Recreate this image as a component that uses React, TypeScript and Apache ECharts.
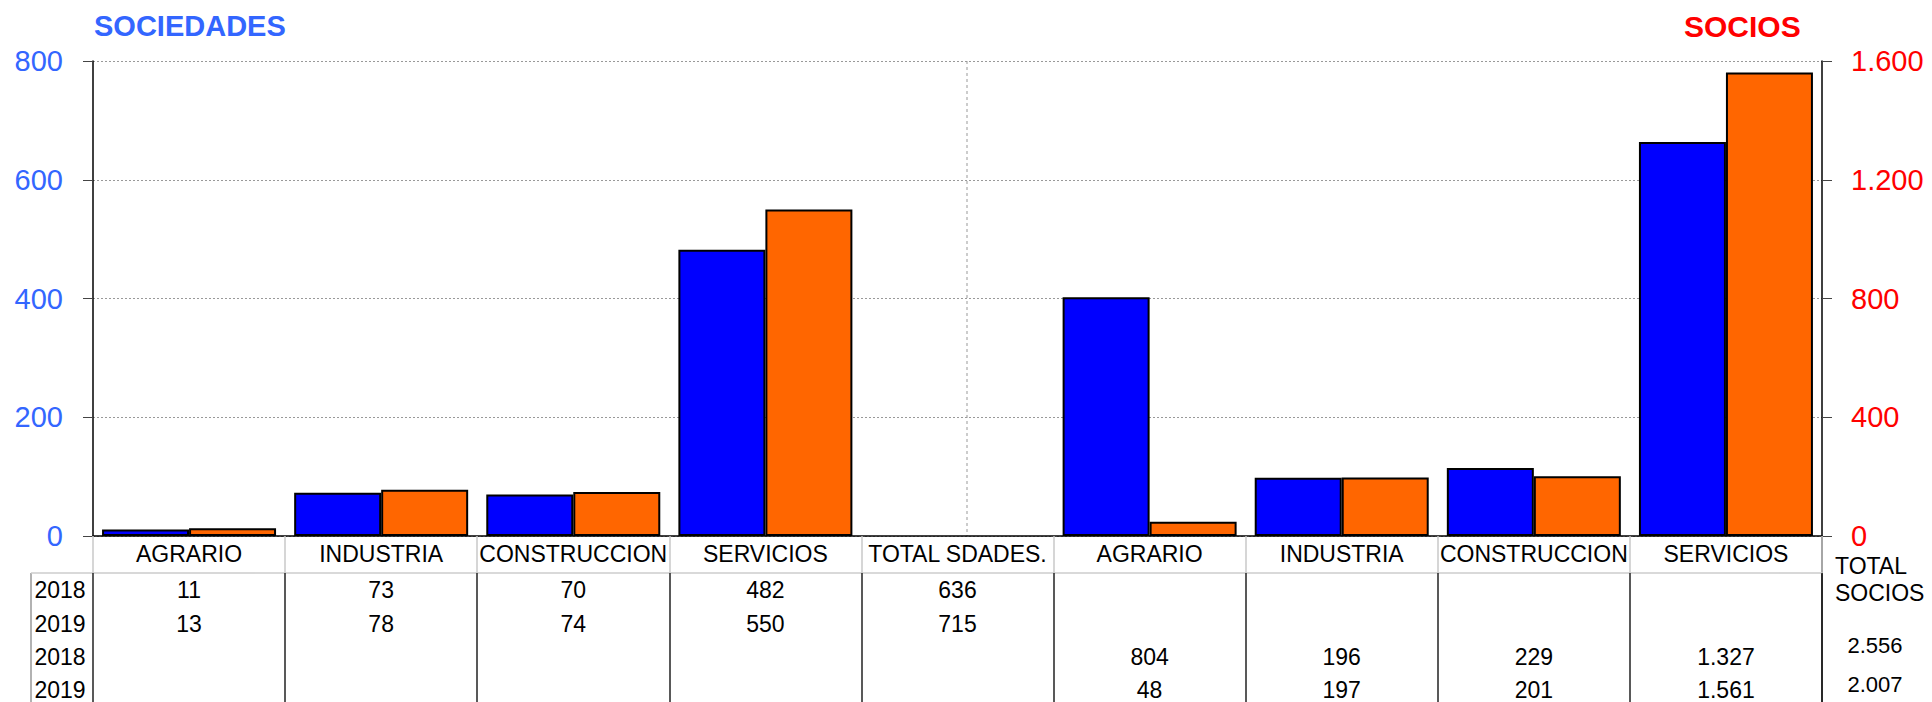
import React, { useEffect, useRef } from 'react';
import * as echarts from 'echarts';

const categories = ['AGRARIO', 'INDUSTRIA', 'CONSTRUCCION', 'SERVICIOS', 'TOTAL SDADES.', 'AGRARIO', 'INDUSTRIA', 'CONSTRUCCION', 'SERVICIOS'];
const sociedades2018 = [11, 73, 70, 482];
const sociedades2019 = [13, 78, 74, 550];
const totalSociedades = [636, 715];
const socios2018 = [804, 196, 229, 1327];
const socios2019 = [48, 197, 201, 1561];
const totalSocios = [2556, 2007];
const rowYears = ['2018', '2019', '2018', '2019'];
const leftMax = 800;
const leftStep = 200;
const rightMax = 1600;
const rightStep = 400;

const FONT = '"Liberation Sans", Arial, sans-serif';
const fmt = (n: number) => String(n).replace(/\B(?=(\d{3})+(?!\d))/g, '.');
const pad = (n: number) => Array(n).fill(null);

const GRID_LEFT = 93;
const GRID_RIGHT = 1822;
const GRID_TOP = 61;
const GRID_BOTTOM = 536;
const W = 1932;
const H = 702;
const HEADER_BOTTOM = 573;
const rowCenters = [590, 624, 657, 690];
const DIVIDER_X = 967;

export default function App() {
  const ref = useRef<HTMLDivElement>(null);
  useEffect(() => {
    if (!ref.current) return;
    const chart = echarts.init(ref.current, undefined, { renderer: 'svg' });

    const socS18 = [...sociedades2018, ...pad(5)];
    const socS19 = [...sociedades2019, ...pad(5)];
    const sociosS18 = [...pad(5), ...socios2018];
    const sociosS19 = [...pad(5), ...socios2019];
    const tableRows = [
      [...sociedades2018, totalSociedades[0], ...pad(4)],
      [...sociedades2019, totalSociedades[1], ...pad(4)],
      [...pad(5), ...socios2018],
      [...pad(5), ...socios2019],
    ];

    const rowAxes = tableRows.map((row, r) => ({
      type: 'category',
      gridIndex: 0,
      position: 'bottom',
      offset: rowCenters[r] - GRID_BOTTOM,
      data: categories,
      axisLine: { show: false, onZero: false },
      axisTick: { show: false },
      splitLine: { show: false },
      axisLabel: {
        interval: 0,
        margin: 0,
        verticalAlign: 'middle',
        color: '#000',
        fontSize: 23,
        fontFamily: FONT,
        formatter: (_v: string, i: number) => (row[i] == null ? '' : fmt(row[i] as number)),
      },
    }));

    const barStyle = (color: string) => ({ color, borderColor: '#000', borderWidth: 2 });

    const graphic: any[] = [
      {
        type: 'text', x: 94, y: 26,
        style: { text: 'SOCIEDADES', fill: '#3366FF', font: `bold 29px ${FONT}`, align: 'left', verticalAlign: 'middle' },
      },
      {
        type: 'text', x: 1684, y: 26,
        style: { text: 'SOCIOS', fill: '#FF0000', font: `bold 30px ${FONT}`, align: 'left', verticalAlign: 'middle' },
      },
      {
        type: 'line', shape: { x1: DIVIDER_X, y1: GRID_TOP, x2: DIVIDER_X, y2: GRID_BOTTOM },
        style: { stroke: '#999', lineWidth: 1, lineDash: [3, 3] },
      },
      {
        type: 'line', shape: { x1: 31, y1: HEADER_BOTTOM, x2: 31, y2: H },
        style: { stroke: '#999', lineWidth: 1.5 },
      },
      {
        type: 'line', shape: { x1: 31, y1: HEADER_BOTTOM, x2: GRID_LEFT, y2: HEADER_BOTTOM },
        style: { stroke: '#ccc', lineWidth: 1.5 },
      },
      {
        type: 'line', shape: { x1: GRID_RIGHT, y1: GRID_BOTTOM, x2: GRID_RIGHT, y2: H },
        style: { stroke: '#000', lineWidth: 1.5 },
      },
      {
        type: 'text', x: 1835, y: 566,
        style: { text: 'TOTAL', fill: '#000', font: `23px ${FONT}`, align: 'left', verticalAlign: 'middle' },
      },
      {
        type: 'text', x: 1835, y: 593,
        style: { text: 'SOCIOS', fill: '#000', font: `23px ${FONT}`, align: 'left', verticalAlign: 'middle' },
      },
    ];
    rowYears.forEach((yr, r) => {
      graphic.push({
        type: 'text', x: 60, y: rowCenters[r],
        style: { text: yr, fill: '#000', font: `23px ${FONT}`, align: 'center', verticalAlign: 'middle' },
      });
    });
    const totalY = [645, 684];
    totalSocios.forEach((t, i) => {
      graphic.push({
        type: 'text', x: 1875, y: totalY[i],
        style: { text: fmt(t), fill: '#000', font: `22px ${FONT}`, align: 'center', verticalAlign: 'middle' },
      });
    });

    chart.setOption({
      animation: false,
      backgroundColor: '#fff',
      textStyle: { fontFamily: FONT },
      grid: { left: GRID_LEFT, right: W - GRID_RIGHT, top: GRID_TOP, bottom: H - GRID_BOTTOM, containLabel: false },
      xAxis: [
        {
          type: 'category',
          position: 'bottom',
          data: categories,
          boundaryGap: true,
          axisLine: { show: true, onZero: false, lineStyle: { color: '#000', width: 1.5 } },
          axisTick: { show: true, interval: 0, length: HEADER_BOTTOM - GRID_BOTTOM, lineStyle: { color: '#c8c8c8', width: 1.5 } },
          splitLine: { show: false },
          axisLabel: { interval: 0, margin: 18, verticalAlign: 'middle', color: '#000', fontSize: 23, fontFamily: FONT },
        },
        {
          type: 'category',
          position: 'bottom',
          data: categories,
          show: false,
          axisLine: { onZero: false },
        },
        {
          type: 'category',
          position: 'bottom',
          offset: HEADER_BOTTOM - GRID_BOTTOM,
          data: categories,
          axisLine: { show: true, onZero: false, lineStyle: { color: '#ccc', width: 1.5 } },
          axisTick: { show: true, interval: 0, length: H - HEADER_BOTTOM, lineStyle: { color: '#222', width: 1.5 } },
          axisLabel: { show: false },
          splitLine: { show: false },
        },
        ...rowAxes,
      ],
      yAxis: [
        {
          type: 'value',
          position: 'left',
          min: 0,
          max: leftMax,
          interval: leftStep,
          axisLine: { show: true, lineStyle: { color: '#000', width: 1.5 } },
          axisTick: { show: true, length: 10, lineStyle: { color: '#444' } },
          splitLine: { show: true, lineStyle: { color: '#999', type: [2, 2], width: 1 } },
          axisLabel: { color: '#3366FF', fontSize: 29, margin: 30, fontFamily: FONT },
        },
        {
          type: 'value',
          position: 'right',
          min: 0,
          max: rightMax,
          interval: rightStep,
          axisLine: { show: true, lineStyle: { color: '#000', width: 1.5 } },
          axisTick: { show: true, length: 10, lineStyle: { color: '#444' } },
          splitLine: { show: false },
          axisLabel: { color: '#FF0000', fontSize: 29, margin: 29, fontFamily: FONT, formatter: (v: number) => fmt(v) },
        },
      ],
      series: [
        {
          name: 'Sociedades 2018', type: 'bar', xAxisIndex: 0, yAxisIndex: 0,
          data: socS18, barWidth: 87, barGap: '0%', itemStyle: barStyle('#0000FF'),
        },
        {
          name: 'Sociedades 2019', type: 'bar', xAxisIndex: 0, yAxisIndex: 0,
          data: socS19, barWidth: 87, barGap: '0%', itemStyle: barStyle('#FF6600'),
        },
        {
          name: 'Socios 2018', type: 'bar', xAxisIndex: 1, yAxisIndex: 1,
          data: sociosS18, barWidth: 87, barGap: '0%', itemStyle: barStyle('#0000FF'),
        },
        {
          name: 'Socios 2019', type: 'bar', xAxisIndex: 1, yAxisIndex: 1,
          data: sociosS19, barWidth: 87, barGap: '0%', itemStyle: barStyle('#FF6600'),
        },
      ],
      graphic,
    });

    return () => chart.dispose();
  }, []);

  return <div ref={ref} style={{ position: 'absolute', left: 0, top: 0, width: W, height: H }} />;
}
